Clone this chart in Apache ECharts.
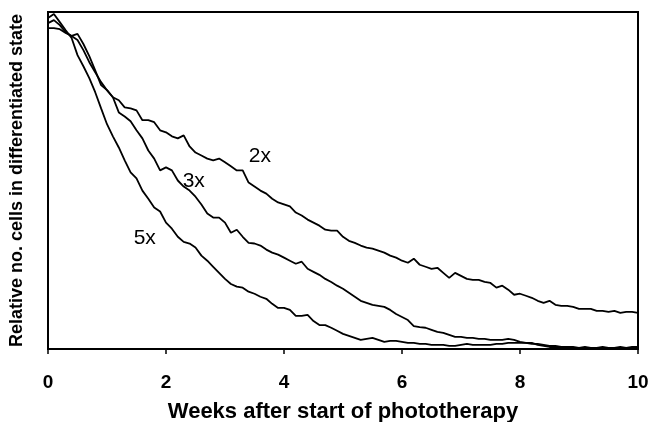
<!DOCTYPE html>
<html>
<head>
<meta charset="utf-8">
<script src="https://cdn.jsdelivr.net/npm/echarts@6/dist/echarts.min.js"></script>
<style>
  html, body { margin: 0; padding: 0; background: #fff; }
  #chart { width: 651px; height: 422px; }
</style>
</head>
<body>
<div id="chart"></div>
<script>
// time axis (weeks), sampled every 0.1 week
var weeks = [0,0.1,0.2,0.3,0.4,0.5,0.6,0.7,0.8,0.9,
  1,1.1,1.2,1.3,1.4,1.5,1.6,1.7,1.8,1.9,
  2,2.1,2.2,2.3,2.4,2.5,2.6,2.7,2.8,2.9,
  3,3.1,3.2,3.3,3.4,3.5,3.6,3.7,3.8,3.9,
  4,4.1,4.2,4.3,4.4,4.5,4.6,4.7,4.8,4.9,
  5,5.1,5.2,5.3,5.4,5.5,5.6,5.7,5.8,5.9,
  6,6.1,6.2,6.3,6.4,6.5,6.6,6.7,6.8,6.9,
  7,7.1,7.2,7.3,7.4,7.5,7.6,7.7,7.8,7.9,
  8,8.1,8.2,8.3,8.4,8.5,8.6,8.7,8.8,8.9,
  9,9.1,9.2,9.3,9.4,9.5,9.6,9.7,9.8,9.9,
  10];

// relative no. of cells (arbitrary units, 0-100)
var twoX = [95.2,95.2,94.9,93.8,92.9,93.5,90.5,86.9,82.7,78.3,
  76.8,74.7,73.8,71.7,71.4,70.8,67.9,67.9,67.3,64.9,
  64.3,63.1,62.5,63.4,60.1,58.3,57.4,56.5,56.0,56.5,
  55.4,54.2,53.0,53.0,49.4,48.2,47.0,46.1,44.6,43.5,
  42.9,42.3,40.5,39.6,38.4,37.5,36.6,35.4,35.1,35.1,
  33.3,32.1,31.5,30.7,30.1,29.8,29.2,28.6,27.7,27.1,
  26.2,25.6,26.8,25.0,24.4,23.8,24.1,22.6,21.1,22.6,
  21.7,20.8,20.5,20.5,19.9,19.6,18.2,18.8,17.6,16.1,
  16.4,15.8,15.2,14.3,13.7,14.3,13.1,12.8,12.8,12.5,
  11.9,11.9,11.9,11.3,11.3,11.0,11.3,10.7,11.0,11.0,
  10.7];

var threeX = [96.7,97.6,96.1,94.0,92.9,91.7,88.7,85.1,82.1,79.2,
  76.8,74.7,70.2,69.0,67.6,64.9,62.5,58.9,56.5,53.0,
  53.9,53.0,50.0,48.2,47.0,45.2,42.9,40.2,39.0,39.0,
  37.5,34.5,35.4,33.3,31.5,31.3,30.7,29.5,28.6,28.0,
  27.1,26.2,25.3,25.9,23.8,22.9,22.0,20.8,19.9,18.8,
  17.9,16.7,15.5,14.3,13.7,13.1,12.8,12.5,11.6,10.4,
  9.5,8.6,6.8,6.5,6.3,5.7,5.1,4.8,4.2,3.6,
  3.6,3.3,3.3,3.0,3.0,2.7,2.7,2.7,3.0,2.7,
  2.1,1.8,1.5,1.5,1.2,0.9,0.9,0.6,0.6,0.6,
  0.3,0.6,0.3,0.3,0.6,0.3,0.3,0.6,0.3,0.6,
  0.6];

var fiveX = [98.2,99.4,97.0,94.6,92.3,87.2,83.9,80.4,76.2,71.4,
  66.7,63.1,59.8,56.0,52.4,50.6,47.0,44.6,42.0,40.8,
  37.5,35.7,33.3,31.8,31.3,30.1,27.7,26.2,24.4,22.6,
  20.8,19.3,18.5,18.2,17.0,16.4,15.5,14.9,13.4,12.2,
  12.2,11.6,9.8,9.8,10.1,8.3,7.1,7.1,6.3,5.4,
  4.5,3.9,3.3,2.7,3.0,3.3,2.7,2.1,2.4,2.4,
  2.1,1.8,1.8,1.5,1.5,1.2,1.2,1.2,0.9,0.9,
  1.2,1.5,1.2,1.2,1.2,1.2,1.5,1.5,1.8,1.8,
  1.8,1.8,1.8,1.2,0.9,0.6,0.6,0.3,0.3,0.3,
  0.3,0.3,0.3,0.3,0.0,0.3,0.0,0.3,0.0,0.3,
  0.0];

// curve labels [week, value, text]
var curveLabels = [
  [3.59, 57.3, '2x'],
  [2.47, 49.9, '3x'],
  [1.64, 32.9, '5x']
];

var font = 'Liberation Sans, Arial, sans-serif';

function pairs(arr) {
  return weeks.map(function (w, i) { return [w, arr[i]]; });
}

function lineSeries(name, arr) {
  return {
    name: name,
    type: 'line',
    data: pairs(arr),
    symbol: 'none',
    animation: false,
    lineStyle: { color: '#000', width: 1.8 }
  };
}

var chart = echarts.init(document.getElementById('chart'));
chart.setOption({
  backgroundColor: '#fff',
  animation: false,
  grid: {
    left: 48, right: 13, top: 12, bottom: 73,
    outerBoundsMode: 'none',
    show: true, borderColor: '#000', borderWidth: 2
  },
  xAxis: {
    type: 'value',
    min: 0, max: 10, interval: 2,
    name: 'Weeks after start of phototherapy',
    nameLocation: 'middle',
    nameGap: 52,
    nameTextStyle: { fontFamily: font, fontWeight: 'bold', fontSize: 22, color: '#000' },
    axisLine: { lineStyle: { color: '#000', width: 2 } },
    axisTick: { show: true, inside: false, length: 5, lineStyle: { color: '#000', width: 1.5 } },
    axisLabel: { margin: 24, fontFamily: font, fontWeight: 'bold', fontSize: 19, color: '#000' },
    splitLine: { show: false }
  },
  yAxis: {
    type: 'value',
    min: 0, max: 100,
    name: 'Relative no. cells in differentiated state',
    nameLocation: 'middle',
    nameRotate: 90,
    nameGap: 22,
    nameTextStyle: { fontFamily: font, fontWeight: 'bold', fontSize: 18, color: '#000' },
    axisLine: { show: true, lineStyle: { color: '#000', width: 2 } },
    axisTick: { show: false },
    axisLabel: { show: false },
    splitLine: { show: false }
  },
  series: [
    lineSeries('2x', twoX),
    lineSeries('3x', threeX),
    lineSeries('5x', fiveX)
  ]
});

// curve names placed through the axes' own scale
chart.setOption({
  graphic: curveLabels.map(function (d) {
    var pt = chart.convertToPixel({ gridIndex: 0 }, [d[0], d[1]]);
    return {
      type: 'text',
      x: pt[0], y: pt[1],
      silent: true,
      style: {
        text: d[2],
        fill: '#000',
        font: '21px ' + font,
        align: 'center',
        verticalAlign: 'middle'
      }
    };
  })
});
</script>
</body>
</html>
